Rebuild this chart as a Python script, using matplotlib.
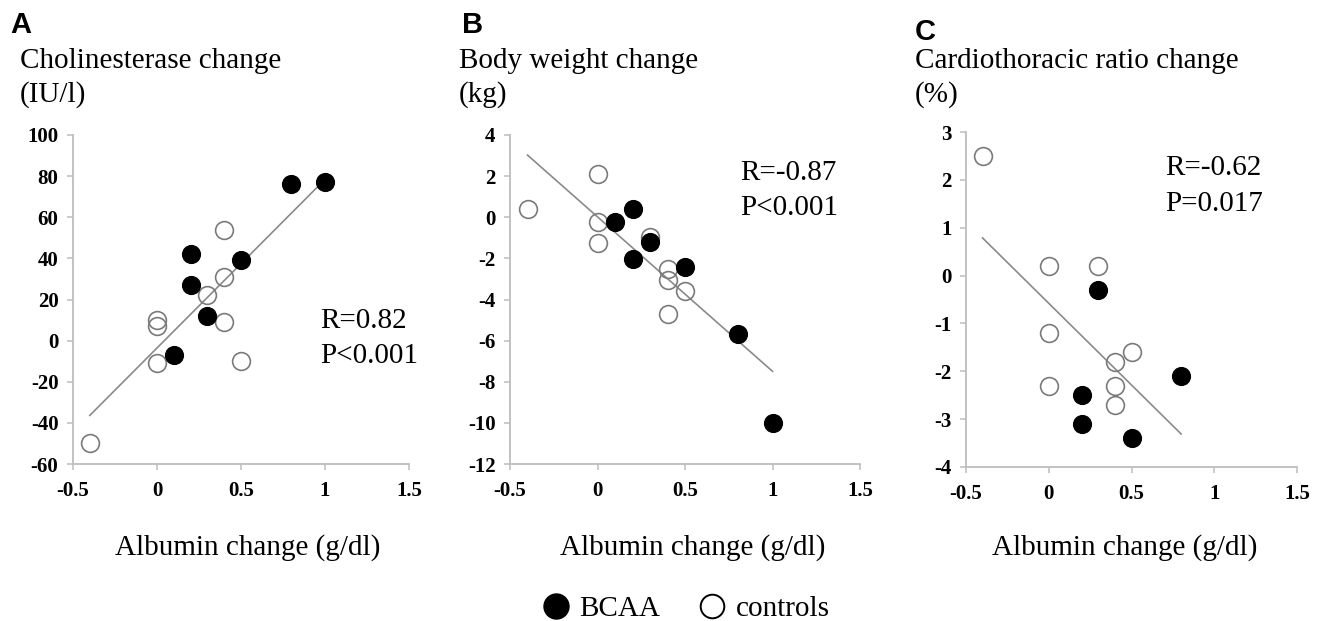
import numpy as np
import matplotlib
matplotlib.use('Agg')
import matplotlib.pyplot as plt
from matplotlib.lines import Line2D

plt.rcParams['font.family'] = 'Liberation Serif'
plt.rcParams['axes.unicode_minus'] = False

# A: cholinesterase change vs albumin change
a_bcaa_x = [0.8, 1.0, 0.2, 0.5, 0.2, 0.3, 0.1]
a_bcaa_y = [76, 77, 42, 39, 27, 12, -7]
a_ctrl_x = [0.4, 0.4, 0.3, 0.0, 0.0, 0.4, 0.0, 0.5, -0.4]
a_ctrl_y = [54, 31, 22, 10, 7, 9, -11, -10, -50]

# B: body weight change
b_bcaa_x = [0.2, 0.1, 0.3, 0.2, 0.5, 0.8, 1.0]
b_bcaa_y = [0.4, -0.25, -1.2, -2.05, -2.4, -5.7, -10.0]
b_ctrl_x = [-0.4, 0.0, 0.0, 0.0, 0.3, 0.4, 0.4, 0.5, 0.4]
b_ctrl_y = [0.4, 2.1, -0.25, -1.25, -0.95, -2.5, -3.05, -3.6, -4.7]

# C: cardiothoracic ratio change
c_bcaa_x = [0.3, 0.8, 0.2, 0.2, 0.5]
c_bcaa_y = [-0.3, -2.1, -2.5, -3.1, -3.4]
c_ctrl_x = [-0.4, 0.0, 0.3, 0.0, 0.0, 0.4, 0.5, 0.4, 0.4]
c_ctrl_y = [2.5, 0.2, 0.2, -1.2, -2.3, -1.8, -1.6, -2.3, -2.7]

letters = ['A', 'B', 'C']
titles = ['Cholinesterase change', 'Body weight change', 'Cardiothoracic ratio change']
units = ['(IU/l)', '(kg)', '(%)']
stats = [('R=0.82', 'P<0.001'), ('R=-0.87', 'P<0.001'), ('R=-0.62', 'P=0.017')]
ylims = [(-60, 100), (-12, 4), (-4, 3)]
ysteps = [20, 2, 1]
xticks = [-0.5, 0, 0.5, 1, 1.5]
xticklabels = ['-0.5', '0', '0.5', '1', '1.5']

W, H = 1320, 621
fig = plt.figure(figsize=(W / 100, H / 100), dpi=100)

def fx(x):
    return x / W

def fy(y):
    return 1 - y / H

# axes boxes (pixels: left, top, right, bottom)
boxes = [(73, 135, 409, 464), (510, 135, 860, 464), (966, 132, 1297, 467)]
letter_pos = [(10, 33), (462, 33), (915, 40)]
title_x = [20, 459, 915]
stat_pos = [((0.735, 0.413), (0.735, 0.307)),
            ((0.657, 0.863), (0.657, 0.757)),
            ((0.601, 0.872), (0.601, 0.764))]
xlabel_x = [248, 693, 1125]

data = [(a_bcaa_x, a_bcaa_y, a_ctrl_x, a_ctrl_y),
        (b_bcaa_x, b_bcaa_y, b_ctrl_x, b_ctrl_y),
        (c_bcaa_x, c_bcaa_y, c_ctrl_x, c_ctrl_y)]

spine_col = '#bdbdbd'
for i in range(3):
    l, t, r, b = boxes[i]
    ax = fig.add_axes([fx(l), fy(b), (r - l) / W, (b - t) / H])
    bx, by, cx, cy = data[i]

    # regression line over all points
    allx = np.array(bx + cx)
    ally = np.array(by + cy)
    k, c0 = np.polyfit(allx, ally, 1)
    xs = np.array([allx.min(), allx.max()])
    ax.plot(xs, k * xs + c0, color='#8a8a8a', lw=1.2, zorder=1)

    ax.plot(cx, cy, 'o', ms=12.8, mfc='none', mec='#7a7a7a', mew=1.2, zorder=2)
    ax.plot(bx, by, 'o', ms=12.8, mfc='black', mec='black', zorder=3)

    ax.set_xlim(-0.5, 1.5)
    ax.set_ylim(*ylims[i])
    ax.set_xticks(xticks)
    ax.set_xticklabels(xticklabels)
    ax.set_yticks(np.arange(ylims[i][0], ylims[i][1] + ysteps[i] / 2, ysteps[i]))
    for s in ['top', 'right']:
        ax.spines[s].set_visible(False)
    for s in ['left', 'bottom']:
        ax.spines[s].set_color(spine_col)
        ax.spines[s].set_linewidth(1.3)
    ax.tick_params(direction='out', length=4.5, width=1.1, color=spine_col,
                   labelsize=15)
    ax.tick_params(axis='x', pad=8)
    ax.tick_params(axis='y', pad=6)
    for lab in ax.get_xticklabels() + ax.get_yticklabels():
        lab.set_fontweight('bold')

    (sx1, sy1), (sx2, sy2) = stat_pos[i]
    ax.text(sx1, sy1, stats[i][0], transform=ax.transAxes, fontsize=21, va='baseline')
    ax.text(sx2, sy2, stats[i][1], transform=ax.transAxes, fontsize=21, va='baseline')

    lx, ly = letter_pos[i]
    fig.text(fx(lx), fy(ly), letters[i], family='Liberation Sans', fontweight='bold',
             fontsize=21, va='baseline')
    fig.text(fx(title_x[i]), fy(68), titles[i], fontsize=21, va='baseline')
    fig.text(fx(title_x[i]), fy(102), units[i], fontsize=21, va='baseline')
    fig.text(fx(xlabel_x[i]), fy(555), 'Albumin change (g/dl)', fontsize=21,
             ha='center', va='baseline')

handles = [Line2D([], [], ls='none', marker='o', ms=18, mfc='black', mec='black'),
           Line2D([], [], ls='none', marker='o', ms=17, mfc='none', mec='black', mew=1.4)]
fig.legend(handles, ['BCAA', 'controls'], ncol=2, frameon=False, fontsize=21,
           loc='lower center', bbox_to_anchor=(fx(686), fy(637)),
           handlelength=0.9, handletextpad=0.35, columnspacing=1.35, borderpad=0)

fig.savefig('out.png', dpi=100)
